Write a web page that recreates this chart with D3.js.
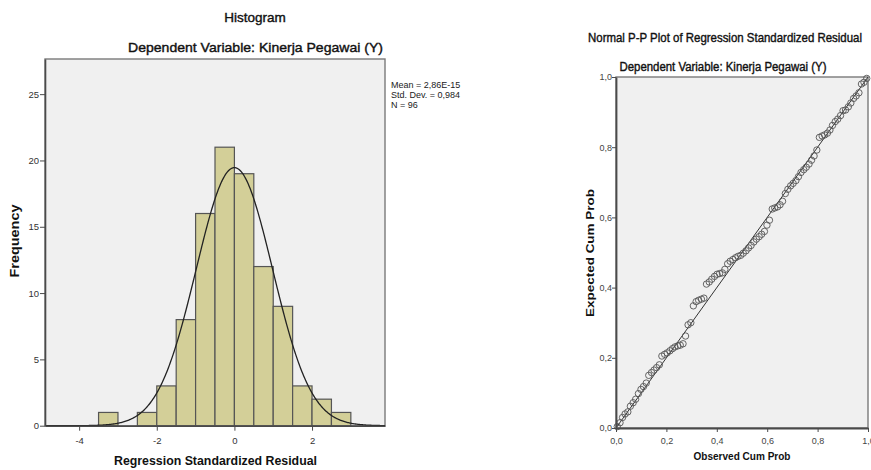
<!DOCTYPE html>
<html>
<head>
<meta charset="utf-8">
<script src="https://cdn.jsdelivr.net/npm/d3@7"></script>
<style>
  body { margin: 0; background: #fff; }
  text { font-family: "Liberation Sans", Arial, sans-serif; }
</style>
</head>
<body>
<div id="chart"></div>
<script>
// histogram data (bin starts, width 0.5)
const binStarts = [-3.5, -3, -2.5, -2, -1.5, -1, -0.5, 0, 0.5, 1, 1.5, 2, 2.5];
const binCounts = [1, 0, 1, 3, 8, 16, 21, 19, 12, 9, 3, 2, 1];
const binWidth = 0.5;
const histXTicks = [-4, -2, 0, 2];
const histYTicks = [0, 5, 10, 15, 20, 25];
const statLines = ["Mean = 2,86E-15", "Std. Dev. = 0,984", "N = 96"];
const resMean = 2.86e-15,
      resSd = 0.984,
      resN = 96;

// P-P plot data
const ppObserved = [
  0.005,0.016,0.026,0.036,0.047,0.057,0.068,0.078,0.089,0.099,
  0.109,0.120,0.130,0.141,0.151,0.161,0.172,0.182,0.193,0.203,
  0.214,0.224,0.234,0.245,0.255,0.266,0.276,0.286,0.297,0.307,
  0.318,0.328,0.339,0.349,0.359,0.370,0.380,0.391,0.401,0.411,
  0.422,0.432,0.443,0.453,0.464,0.474,0.484,0.495,0.505,0.516,
  0.526,0.536,0.547,0.557,0.568,0.578,0.589,0.599,0.609,0.620,
  0.630,0.641,0.651,0.661,0.672,0.682,0.693,0.703,0.714,0.724,
  0.734,0.745,0.755,0.766,0.776,0.786,0.797,0.807,0.818,0.828,
  0.839,0.849,0.859,0.870,0.880,0.891,0.901,0.911,0.922,0.932,
  0.943,0.953,0.964,0.974,0.984,0.995];
const ppExpected = [
  0.004,0.015,0.030,0.040,0.046,0.062,0.072,0.082,0.098,0.110,
  0.118,0.128,0.150,0.158,0.165,0.172,0.180,0.205,0.210,0.214,
  0.220,0.226,0.231,0.234,0.236,0.240,0.262,0.294,0.300,0.348,
  0.360,0.364,0.367,0.370,0.410,0.416,0.424,0.432,0.438,0.440,
  0.442,0.452,0.468,0.475,0.480,0.485,0.489,0.492,0.498,0.505,
  0.513,0.520,0.530,0.538,0.545,0.552,0.560,0.578,0.592,0.624,
  0.627,0.630,0.636,0.646,0.668,0.680,0.690,0.697,0.705,0.716,
  0.728,0.736,0.743,0.752,0.763,0.775,0.792,0.828,0.832,0.835,
  0.840,0.849,0.862,0.873,0.880,0.890,0.904,0.906,0.915,0.926,
  0.939,0.946,0.955,0.980,0.985,0.996];
const ppTicks = [0, 0.2, 0.4, 0.6, 0.8, 1.0];

// constants
const w = 871,
      h = 470;
const bg = "#f0f0f0",
      frameDark = "#4a4a4a",
      frameLight = "#7a7a7a",
      tickText = "#333";

let svg = d3.select("#chart")
            .append("svg")
            .attr("width", w)
            .attr("height", h);

svg.append("rect").attr("width", w).attr("height", h).attr("fill", "#fff");

// ---------- Histogram ----------
const hx0 = 45, hx1 = 385, hy0 = 59, hy1 = 425.7;

let hxScale = d3.scaleLinear().domain([-4.88, 3.88]).range([hx0, hx1]);
let hyScale = d3.scaleLinear().domain([0, 27.65]).range([hy1, hy0]);

let hist = svg.append("g").attr("id", "histogram");

hist.append("rect")
    .attr("x", hx0).attr("y", hy0)
    .attr("width", hx1 - hx0).attr("height", hy1 - hy0)
    .attr("fill", bg)
    .attr("stroke", frameLight)
    .attr("stroke-width", 1.4);

// bars (empty bins are skipped)
let barData = binCounts.map((c, i) => ({start: binStarts[i], count: c}))
                       .filter((b) => b.count > 0);
hist.selectAll("rect.bar")
    .data(barData)
    .enter()
    .append("rect")
    .attr("class", "bar")
    .attr("x", (d) => hxScale(d.start))
    .attr("y", (d) => hyScale(d.count))
    .attr("width", hxScale(binWidth) - hxScale(0))
    .attr("height", (d) => hy1 - hyScale(d.count))
    .attr("fill", "#d3cf98")
    .attr("stroke", "#555")
    .attr("stroke-width", 1.2);

// normal curve from mean / sd / N
let curveX = d3.range(-4.88, 3.885, 0.02);
let pdf = (x) => resN * binWidth * Math.exp(-0.5 * Math.pow((x - resMean) / resSd, 2)) / (resSd * Math.sqrt(2 * Math.PI));
hist.append("path")
    .datum(curveX)
    .attr("fill", "none")
    .attr("stroke", "#222")
    .attr("stroke-width", 1.3)
    .attr("d", d3.line().x((d) => hxScale(d)).y((d) => hyScale(pdf(d))));

// axes
let hxAxis = d3.axisBottom(hxScale).tickValues(histXTicks).tickSize(5).tickSizeOuter(0).tickFormat((d) => String(d));
let hyAxis = d3.axisLeft(hyScale).tickValues(histYTicks).tickSize(5).tickSizeOuter(0).tickFormat((d) => String(d));

hist.append("g")
    .attr("transform", `translate(0, ${hy1})`)
    .call(hxAxis)
    .call((g) => g.select(".domain").attr("stroke", frameDark).attr("stroke-width", 1.6))
    .call((g) => g.selectAll("line").attr("stroke", frameDark))
    .call((g) => g.selectAll("text").attr("fill", tickText).attr("font-size", 9.5).attr("dy", "1.05em")
                  .attr("font-family", "Liberation Sans, Arial, sans-serif"));

hist.append("g")
    .attr("transform", `translate(${hx0}, 0)`)
    .call(hyAxis)
    .call((g) => g.select(".domain").attr("stroke", frameDark).attr("stroke-width", 1.6))
    .call((g) => g.selectAll("line").attr("stroke", frameDark))
    .call((g) => g.selectAll("text").attr("fill", tickText).attr("font-size", 9.5).attr("x", -6)
                  .attr("font-family", "Liberation Sans, Arial, sans-serif"));

// titles (thin stroke to get the heavier look)
hist.append("text")
    .attr("x", 255).attr("y", 21.5)
    .attr("text-anchor", "middle")
    .attr("font-size", 13.5)
    .attr("fill", "#111")
    .attr("stroke", "#111")
    .attr("stroke-width", 0.4)
    .text("Histogram");
hist.append("text")
    .attr("x", 255.5).attr("y", 52)
    .attr("text-anchor", "middle")
    .attr("font-size", 13.5)
    .attr("fill", "#111")
    .attr("stroke", "#111")
    .attr("stroke-width", 0.4)
    .attr("textLength", 255)
    .attr("lengthAdjust", "spacingAndGlyphs")
    .text("Dependent Variable: Kinerja Pegawai (Y)");

hist.append("text")
    .attr("transform", "translate(19, 241) rotate(-90)")
    .attr("text-anchor", "middle")
    .attr("font-size", 12)
    .attr("font-weight", "bold")
    .attr("fill", "#111")
    .attr("textLength", 73)
    .attr("lengthAdjust", "spacingAndGlyphs")
    .text("Frequency");

hist.append("text")
    .attr("x", 215.5).attr("y", 465)
    .attr("text-anchor", "middle")
    .attr("font-size", 12)
    .attr("font-weight", "bold")
    .attr("fill", "#111")
    .attr("textLength", 203)
    .attr("lengthAdjust", "spacingAndGlyphs")
    .text("Regression Standardized Residual");

// stats box
hist.selectAll("text.stat")
    .data(statLines)
    .enter()
    .append("text")
    .attr("class", "stat")
    .attr("x", 391)
    .attr("y", (d, i) => 88 + i * 10)
    .attr("font-size", 9)
    .attr("fill", "#222")
    .text((d) => d);

// ---------- P-P plot ----------
const px0 = 616, px1 = 868, py0 = 77, py1 = 428;

let pxScale = d3.scaleLinear().domain([0, 1]).range([px0, px1]);
let pyScale = d3.scaleLinear().domain([0, 1]).range([py1, py0]);
let commaFmt = (d) => d3.format(".1f")(d).replace(".", ",");

let pp = svg.append("g").attr("id", "ppplot");

pp.append("rect")
  .attr("x", px0).attr("y", py0)
  .attr("width", px1 - px0).attr("height", py1 - py0)
  .attr("fill", bg)
  .attr("stroke", frameLight)
  .attr("stroke-width", 1.4);

// diagonal reference
pp.append("line")
  .attr("x1", pxScale(0)).attr("y1", pyScale(0))
  .attr("x2", pxScale(1)).attr("y2", pyScale(1))
  .attr("stroke", "#333")
  .attr("stroke-width", 1);

// points
pp.selectAll("circle")
  .data(ppObserved)
  .enter()
  .append("circle")
  .attr("cx", (d) => pxScale(d))
  .attr("cy", (d, i) => pyScale(ppExpected[i]))
  .attr("r", 3.2)
  .attr("fill", "none")
  .attr("stroke", "#555")
  .attr("stroke-width", 0.9);

let pxAxis = d3.axisBottom(pxScale).tickValues(ppTicks).tickSize(4).tickSizeOuter(0).tickFormat(commaFmt);
let pyAxis = d3.axisLeft(pyScale).tickValues(ppTicks).tickSize(4).tickSizeOuter(0).tickFormat(commaFmt);

pp.append("g")
  .attr("transform", `translate(0, ${py1})`)
  .call(pxAxis)
  .call((g) => g.select(".domain").attr("stroke", frameDark).attr("stroke-width", 1.8))
  .call((g) => g.selectAll("line").attr("stroke", frameDark))
  .call((g) => g.selectAll("text").attr("fill", "#444").attr("font-size", 9).attr("dy", "1.05em")
                .attr("font-family", "Liberation Sans Narrow, Liberation Sans, Arial, sans-serif"));

pp.append("g")
  .attr("transform", `translate(${px0}, 0)`)
  .call(pyAxis)
  .call((g) => g.select(".domain").attr("stroke", frameDark).attr("stroke-width", 1.8))
  .call((g) => g.selectAll("line").attr("stroke", frameDark))
  .call((g) => g.selectAll("text").attr("fill", "#444").attr("font-size", 9).attr("x", -4)
                .attr("font-family", "Liberation Sans Narrow, Liberation Sans, Arial, sans-serif"));

pp.append("text")
  .attr("x", 725).attr("y", 42)
  .attr("text-anchor", "middle")
  .attr("font-size", 13)
  .attr("fill", "#111")
  .attr("stroke", "#111")
  .attr("stroke-width", 0.4)
  .attr("textLength", 274)
  .attr("lengthAdjust", "spacingAndGlyphs")
  .text("Normal P-P Plot of Regression Standardized Residual");

pp.append("text")
  .attr("x", 723).attr("y", 71)
  .attr("text-anchor", "middle")
  .attr("font-size", 12.5)
  .attr("fill", "#111")
  .attr("stroke", "#111")
  .attr("stroke-width", 0.4)
  .attr("textLength", 207)
  .attr("lengthAdjust", "spacingAndGlyphs")
  .text("Dependent Variable: Kinerja Pegawai (Y)");

pp.append("text")
  .attr("transform", "translate(594, 253) rotate(-90)")
  .attr("text-anchor", "middle")
  .attr("font-size", 11.5)
  .attr("font-weight", "bold")
  .attr("fill", "#111")
  .attr("textLength", 128)
  .attr("lengthAdjust", "spacingAndGlyphs")
  .text("Expected Cum Prob");

pp.append("text")
  .attr("x", 742).attr("y", 460)
  .attr("text-anchor", "middle")
  .attr("font-size", 11)
  .attr("font-weight", "bold")
  .attr("fill", "#111")
  .attr("textLength", 97)
  .attr("lengthAdjust", "spacingAndGlyphs")
  .text("Observed Cum Prob");
</script>
</body>
</html>
